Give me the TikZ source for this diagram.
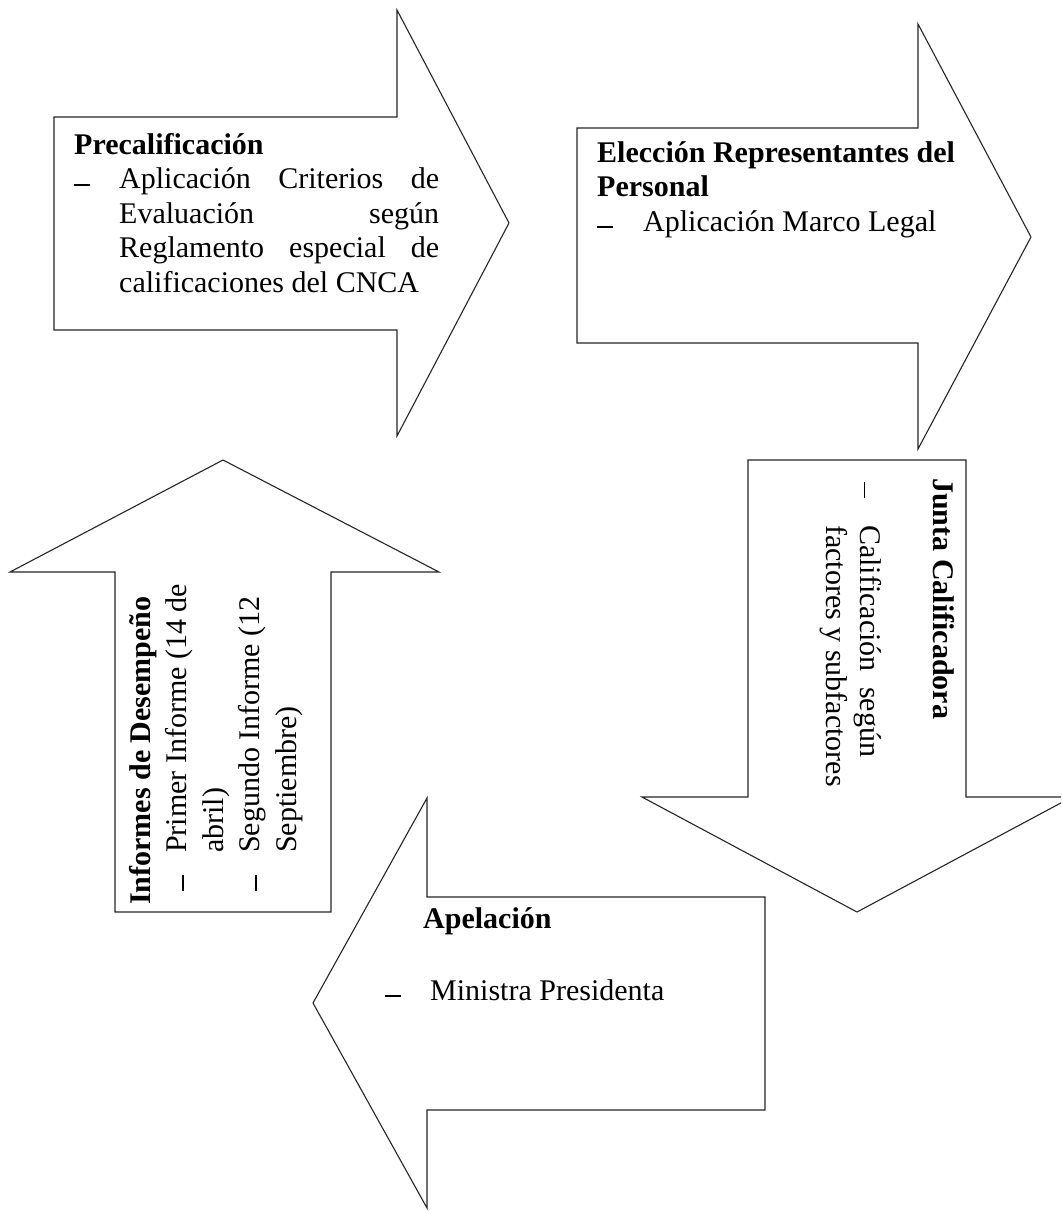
\documentclass[tikz,border=0pt]{standalone}
\usepackage{fontspec}
\setmainfont{Liberation Serif}
\newcommand{\dashmark}{\rule[3pt]{16pt}{1.6pt}}
\tikzset{
  arrowshape/.style={draw=black!85, line width=1.1pt, fill=white, line join=miter},
  txt/.style={inner sep=0pt, anchor=base west, font=\fontsize{30}{34.5}\selectfont},
}
\begin{document}
\begin{tikzpicture}[x=1pt,y=-1pt]
\clip (0,0) rectangle (1061,1211);
\fill[white] (0,0) rectangle (1061,1211);

% Arrow 1: Precalificacion (right)
\draw[arrowshape] (54,117) -- (397,117) -- (397,10) -- (509,223) -- (397,436) -- (397,330) -- (54,330) -- cycle;
% Arrow 2: Eleccion (right)
\draw[arrowshape] (577,128) -- (918,128) -- (918,24) -- (1031,237) -- (918,449) -- (918,343) -- (577,343) -- cycle;
% Arrow 3: Junta (down)
\draw[arrowshape] (748,460) -- (966,460) -- (966,797) -- (1072,797) -- (857,912) -- (642,797) -- (748,797) -- cycle;
% Arrow 4: Apelacion (left)
\draw[arrowshape] (765,897) -- (427,897) -- (427,798) -- (313,1003) -- (427,1208) -- (427,1110) -- (765,1110) -- cycle;
% Arrow 5: Informes (up)
\draw[arrowshape] (115,912) -- (115,572) -- (10,572) -- (223,460) -- (439,572) -- (331,572) -- (331,912) -- cycle;

\node[txt] (t1) at (74,154) {\parbox[t]{440pt}{%
\textbf{Precalificación}\\
\makebox[45pt][l]{\dashmark}\makebox[320pt][s]{Aplicación Criterios de}\\
\hspace*{45pt}\makebox[320pt][s]{Evaluación según}\\
\hspace*{45pt}\makebox[320pt][s]{Reglamento especial de}\\
\hspace*{45pt}calificaciones del CNCA}};

\node[txt] (t2) at (597,162) {\parbox[t]{440pt}{%
\textbf{Elección Representantes del}\\
\textbf{Personal}\\
\makebox[46pt][l]{\dashmark}Aplicación Marco Legal}};

\node[txt, rotate=-90] (t3) at (933,478) {\parbox[t]{440pt}{%
\textbf{Junta Calificadora}\\[38pt]
\makebox[47pt][l]{\hspace*{4pt}\dashmark}\makebox[232pt][s]{Calificación según}\\
\hspace*{47pt}factores y subfactores}};

\node[txt] (t4) at (385,928) {\parbox[t]{440pt}{%
\hspace*{38pt}\textbf{Apelación}\\[37.5pt]
\makebox[45pt][l]{\dashmark}Ministra Presidenta}};

\node[txt, rotate=90, font=\fontsize{30}{36.5}\selectfont] (t5) at (150,905) {\parbox[t]{440pt}{%
\textbf{Informes de Desempeño}\\
\makebox[52pt][l]{\hspace*{14pt}\dashmark}Primer Informe (14 de\\
\hspace*{52pt}abril)\\
\makebox[52pt][l]{\hspace*{14pt}\dashmark}Segundo Informe (12\\
\hspace*{52pt}Septiembre)}};
\end{tikzpicture}
\end{document}
